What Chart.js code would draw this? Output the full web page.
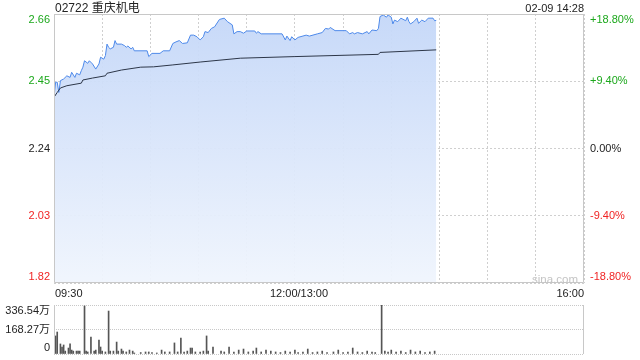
<!DOCTYPE html>
<html>
<head>
<meta charset="utf-8">
<script src="https://cdn.jsdelivr.net/npm/chart.js@4/dist/chart.umd.min.js"></script>
<style>
  body { margin: 0; background: #fff; font-family: "Liberation Sans", Arial, "Noto Sans CJK SC", sans-serif; }
  #lienzo { position: relative; width: 640px; height: 360px; overflow: hidden; }
  canvas { position: absolute; left: 0; }
  .txt { position: absolute; white-space: nowrap; font-size: 11px; line-height: 14px; color: #222; }
</style>
</head>
<body>
<div id="lienzo">
  <canvas id="precio" width="640" height="300" style="top:0"></canvas>
  <canvas id="volumen" width="640" height="64" style="top:296px"></canvas>
  <div class="txt" style="left:55px;top:1px;font-size:12px;">02722 重庆机电</div>
  <div class="txt" style="right:56px;top:1px;">02-09 14:28</div>
  <div class="txt" style="left:55px;top:286px;">09:30</div>
  <div class="txt" style="left:270px;top:286px;">12:00/13:00</div>
  <div class="txt" style="right:56px;top:286px;">16:00</div>
  <div class="txt" style="left:532px;top:272px;color:#c4c4c4;font-size:11.5px;">sina.com</div>
</div>
<script>
//CONSTANTES (minutos desde 09:30, 12:00 y 13:00 comparten el minuto 150)
const minutosPrecio = [0, 1, 2, 3, 4, 6, 8, 10, 11, 13, 14, 16, 17, 18, 19, 21, 22, 24, 26, 28, 29, 31, 32, 33, 34, 35, 37, 38, 39, 42, 44, 45, 46, 48, 49, 50, 58, 59, 61, 66, 68, 72, 74, 76, 78, 80, 83, 85, 87, 89, 91, 93, 94, 96, 98, 100, 103, 106, 108, 111, 112, 114, 116, 118, 120, 125, 126, 127, 129, 142, 144, 145, 147, 148, 150, 152, 157, 159, 164, 167, 169, 171, 172, 175, 182, 184, 186, 187, 189, 192, 195, 196, 198, 201, 202, 203, 205, 207, 208, 210, 211, 212, 214, 216, 219, 220, 221, 222, 224, 226, 227, 229, 231, 233, 236, 237, 238];
const precios = [2.400, 2.447, 2.447, 2.415, 2.452, 2.457, 2.467, 2.462, 2.478, 2.462, 2.475, 2.470, 2.483, 2.494, 2.514, 2.506, 2.514, 2.504, 2.488, 2.504, 2.525, 2.519, 2.530, 2.566, 2.556, 2.551, 2.556, 2.577, 2.566, 2.566, 2.561, 2.556, 2.560, 2.551, 2.556, 2.545, 2.545, 2.527, 2.537, 2.537, 2.545, 2.545, 2.568, 2.573, 2.577, 2.568, 2.570, 2.594, 2.594, 2.589, 2.579, 2.589, 2.605, 2.602, 2.615, 2.620, 2.643, 2.647, 2.636, 2.626, 2.598, 2.605, 2.605, 2.600, 2.607, 2.607, 2.600, 2.605, 2.598, 2.598, 2.579, 2.591, 2.577, 2.589, 2.579, 2.587, 2.594, 2.591, 2.598, 2.602, 2.615, 2.613, 2.618, 2.608, 2.608, 2.598, 2.602, 2.598, 2.602, 2.598, 2.605, 2.598, 2.610, 2.608, 2.615, 2.652, 2.657, 2.650, 2.657, 2.650, 2.629, 2.641, 2.636, 2.647, 2.639, 2.650, 2.636, 2.629, 2.636, 2.647, 2.631, 2.641, 2.636, 2.647, 2.647, 2.639, 2.640];

const minutosMedia = [0, 2, 4, 8, 17, 18, 24, 32, 33, 42, 54, 62, 74, 91, 116, 150, 202, 203, 238];
const preciosMedia = [2.400, 2.415, 2.429, 2.436, 2.444, 2.454, 2.460, 2.467, 2.475, 2.485, 2.494, 2.495, 2.501, 2.510, 2.522, 2.527, 2.534, 2.540, 2.548];

// volumen en 万
const minutosVol = [1, 2, 4, 5, 6, 7, 9, 10, 11, 12, 14, 15, 16, 19, 20, 21, 23, 25, 26, 28, 29, 30, 32, 34, 35, 37, 39, 40, 42, 43, 45, 47, 49, 50, 54, 57, 59, 61, 64, 67, 69, 72, 75, 77, 79, 81, 83, 85, 86, 88, 91, 93, 95, 96, 99, 104, 106, 109, 112, 115, 118, 121, 124, 126, 129, 132, 135, 138, 141, 144, 147, 150, 152, 155, 158, 161, 164, 167, 170, 174, 177, 180, 183, 186, 189, 192, 195, 198, 200, 204, 206, 208, 210, 213, 216, 219, 222, 225, 228, 231, 234, 237];
const volumenes = [124, 151, 69, 48, 62, 20, 41, 69, 27, 20, 20, 20, 20, 330, 20, 14, 117, 20, 27, 96, 48, 20, 14, 295, 20, 20, 82, 20, 34, 20, 14, 27, 20, 7, 10, 14, 14, 10, 7, 27, 14, 14, 76, 14, 110, 14, 20, 41, 41, 14, 14, 20, 124, 20, 48, 20, 14, 48, 14, 27, 34, 14, 20, 41, 14, 27, 20, 14, 10, 20, 14, 27, 10, 14, 34, 10, 14, 20, 10, 14, 27, 10, 14, 41, 14, 10, 20, 14, 10, 336.54, 20, 14, 27, 14, 20, 10, 27, 14, 20, 10, 14, 20];

const ticksPrecio = [1.82, 2.03, 2.24, 2.45, 2.66];
const etiquetasPrecio = ["1.82", "2.03", "2.24", "2.45", "2.66"];
const etiquetasPct = ["-18.80%", "-9.40%", "0.00%", "+9.40%", "+18.80%"];
const coloresEtiquetas = ["#f02424", "#f02424", "#222", "#1ca81c", "#1ca81c"];
const ticksVol = [0, 168.27, 336.54];
const etiquetasVol = ["0", "168.27万", "336.54万"];
const ticksTiempo = [0, 30, 60, 90, 120, 150, 180, 210, 240, 270, 300, 330];

//PLUGINS
const marco = {
  id: "marco",
  afterDraw(chart, args, opts) {
    const { ctx, chartArea: a } = chart;
    ctx.save();
    ctx.strokeStyle = "#c8c8c8";
    ctx.lineWidth = 1;
    ctx.beginPath();
    if (opts.completo) {
      ctx.rect(Math.round(a.left) + 0.5, Math.round(a.top) + 0.5, Math.round(a.width) - 1, Math.round(a.height) - 1);
    } else {
      ctx.moveTo(Math.round(a.left) + 0.5, a.top);
      ctx.lineTo(Math.round(a.left) + 0.5, a.bottom);
      ctx.moveTo(Math.round(a.right) - 0.5, a.top);
      ctx.lineTo(Math.round(a.right) - 0.5, a.bottom);
    }
    ctx.stroke();
    ctx.restore();
  },
};

const etiquetasEjes = {
  id: "etiquetasEjes",
  afterDraw(chart, args, opts) {
    const { ctx, chartArea: a, scales } = chart;
    ctx.save();
    ctx.font = "11px 'Liberation Sans', Arial, 'Noto Sans CJK SC', sans-serif";
    ctx.textBaseline = "middle";
    opts.valores.forEach((v, i) => {
      let y = scales.y.getPixelForValue(v);
      y = Math.min(Math.max(y, a.top + 6), a.bottom - 6);
      ctx.fillStyle = opts.colores ? opts.colores[i] : "#222";
      ctx.textAlign = "right";
      ctx.fillText(opts.izq[i], a.left - 4, y);
      if (opts.der) {
        ctx.textAlign = "left";
        ctx.fillText(opts.der[i], a.right + 6, y);
      }
    });
    ctx.restore();
  },
};

function degradado(context) {
  const chart = context.chart;
  const a = chart.chartArea;
  if (!a) return "rgba(200,218,248,0.8)";
  const g = chart.ctx.createLinearGradient(0, a.top, 0, a.bottom);
  g.addColorStop(0, "rgba(196,215,248,0.95)");
  g.addColorStop(1, "rgba(240,245,253,0.95)");
  return g;
}

//GRAFICO DE PRECIO
new Chart(document.getElementById("precio"), {
  type: "line",
  data: {
    datasets: [
      {
        label: "media",
        data: minutosMedia.map((m, i) => ({ x: m, y: preciosMedia[i] })),
        borderColor: "#2c3648",
        borderWidth: 1,
        pointRadius: 0,
        fill: false,
      },
      {
        label: "precio",
        data: minutosPrecio.map((m, i) => ({ x: m, y: precios[i] })),
        borderColor: "#4d89ea",
        borderWidth: 1,
        pointRadius: 0,
        fill: "start",
        backgroundColor: degradado,
      },
    ],
  },
  options: {
    responsive: false,
    animation: false,
    events: [],
    layout: { padding: { left: 54, right: 56, top: 14, bottom: 17 } },
    plugins: {
      legend: { display: false },
      tooltip: { enabled: false },
      etiquetasEjes: { valores: ticksPrecio, izq: etiquetasPrecio, der: etiquetasPct, colores: coloresEtiquetas },
      marco: { completo: true },
    },
    scales: {
      x: {
        type: "linear",
        min: 0,
        max: 330,
        afterBuildTicks: (s) => { s.ticks = ticksTiempo.map((v) => ({ value: v })); },
        afterFit: (s) => { s.height = 0; },
        ticks: { display: false },
        grid: { color: "#cfcfcf", drawTicks: false },
        border: { display: false, dash: [2, 2] },
      },
      y: {
        min: 1.82,
        max: 2.66,
        afterBuildTicks: (s) => { s.ticks = ticksPrecio.map((v) => ({ value: v })); },
        afterFit: (s) => { s.width = 0; },
        ticks: { display: false },
        grid: { color: "#cfcfcf", drawTicks: false },
        border: { display: false, dash: [2, 2] },
      },
    },
  },
  plugins: [marco, etiquetasEjes],
});

//GRAFICO DE VOLUMEN
new Chart(document.getElementById("volumen"), {
  type: "bar",
  data: {
    datasets: [
      {
        label: "volumen",
        data: minutosVol.map((m, i) => ({ x: m, y: volumenes[i] })),
        backgroundColor: "#555",
        barThickness: 1,
      },
    ],
  },
  options: {
    responsive: false,
    animation: false,
    events: [],
    layout: { padding: { left: 54, right: 56, top: 9, bottom: 6 } },
    plugins: {
      legend: { display: false },
      tooltip: { enabled: false },
      etiquetasEjes: { valores: ticksVol, izq: etiquetasVol },
      marco: { completo: false },
    },
    scales: {
      x: {
        type: "linear",
        min: 0,
        max: 330,
        offset: false,
        afterFit: (s) => { s.height = 0; },
        ticks: { display: false },
        grid: { display: false, drawTicks: false },
        border: { display: false },
      },
      y: {
        min: 0,
        max: 336.54,
        afterBuildTicks: (s) => { s.ticks = ticksVol.map((v) => ({ value: v })); },
        afterFit: (s) => { s.width = 0; },
        ticks: { display: false },
        grid: { color: "#c8c8c8", drawTicks: false },
        border: { display: false, dash: [1, 1] },
      },
    },
  },
  plugins: [marco, etiquetasEjes],
});
</script>
</body>
</html>
